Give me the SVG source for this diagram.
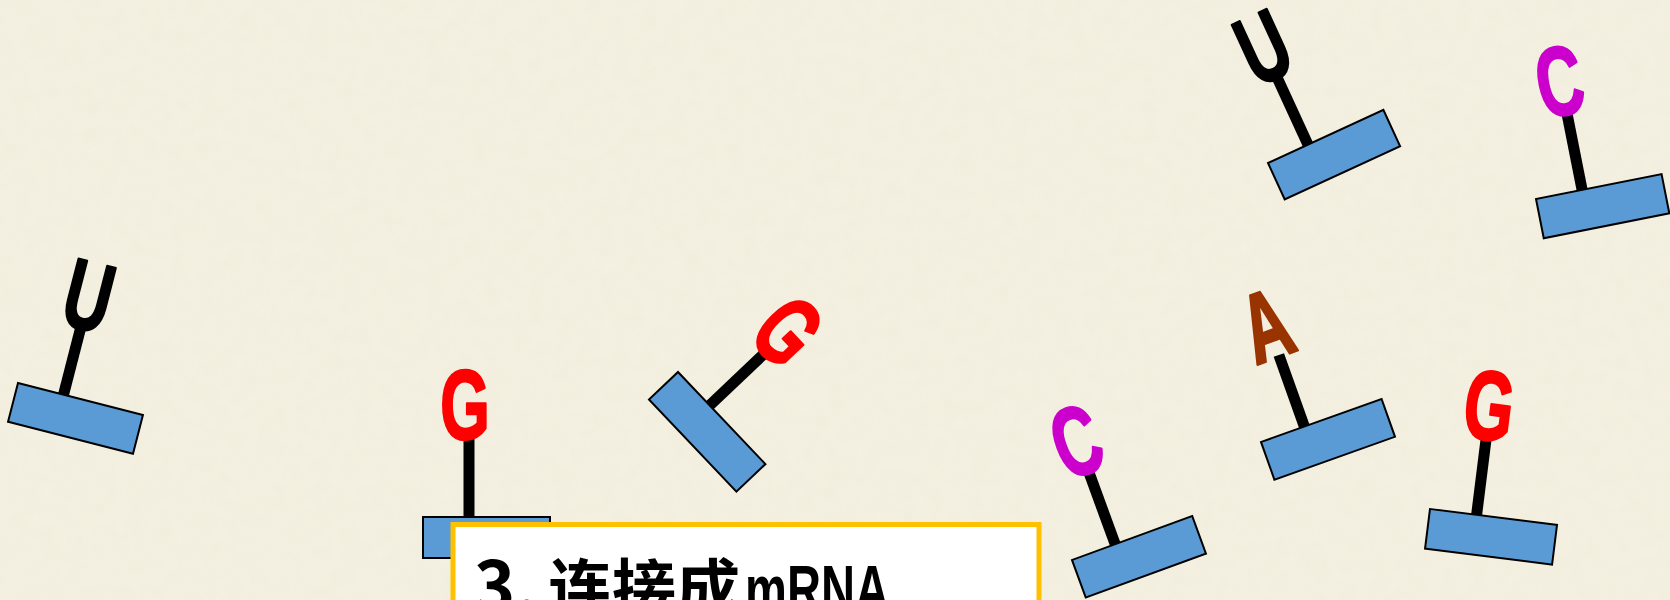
<svg xmlns="http://www.w3.org/2000/svg" width="1670" height="600" viewBox="0 0 1670 600">
  <style>
    .block { fill: #5B9BD5; stroke: #000; stroke-width: 2; }
    .stem { stroke: #000; stroke-width: 11; stroke-linecap: butt; }
    .base { font-family: "Liberation Sans", Arial, sans-serif; font-weight: bold; font-size: 98px; text-anchor: middle; stroke-width: 2.5; stroke-linejoin: round; }
    .g { fill: #FF0000; stroke: #FF0000; }
    .c { fill: #CC00CC; stroke: #CC00CC; }
    .a { fill: #993300; stroke: #993300; }
    .u { fill: #000000; stroke: #000000; }
    .title { font-family: "Noto Sans CJK SC", "Liberation Sans", sans-serif; font-weight: bold; font-size: 64px; fill: #000; }
  </style>
  <defs>
    <filter id="grain" x="0" y="0" width="100%" height="100%">
      <feTurbulence type="fractalNoise" baseFrequency="0.07" numOctaves="3" seed="7"/>
      <feColorMatrix type="matrix" values="0 0 0 0 0.80  0 0 0 0 0.76  0 0 0 0 0.62  0 0 0 0.5 0"/>
    </filter>
  </defs>

  <!-- paper background -->
  <rect width="1670" height="600" fill="#F5F1E2"/>
  <rect width="1670" height="600" filter="url(#grain)" opacity="0.45"/>

  <!-- nucleotide 1: U -->
  <g id="nt-u-left" transform="translate(18,383) rotate(14.4)">
    <line class="stem" x1="47" y1="2" x2="47" y2="-70"/>
    <rect class="block" x="0" y="0" width="129" height="40"/>
    <text class="base u" transform="translate(47,-68) scale(0.66,1)">U</text>
  </g>

  <!-- nucleotide 2: G -->
  <g id="nt-g-1" transform="translate(423,517)">
    <line class="stem" x1="46" y1="2" x2="46" y2="-80"/>
    <rect class="block" x="0" y="0" width="127" height="41"/>
    <text class="base g" transform="translate(42,-78) scale(0.65,1)">G</text>
  </g>

  <!-- nucleotide 3: G (tilted) -->
  <g id="nt-g-2" transform="translate(678,372) rotate(46.5)">
    <line class="stem" x1="46" y1="2" x2="46" y2="-76"/>
    <rect class="block" x="0" y="0" width="127" height="40"/>
    <text class="base g" transform="translate(46,-74) scale(0.65,1)">G</text>
  </g>

  <!-- nucleotide 4: C -->
  <g id="nt-c-1" transform="translate(1072,560) rotate(-20.1)">
    <line class="stem" x1="46" y1="2" x2="46" y2="-78"/>
    <rect class="block" x="0" y="0" width="128" height="40"/>
    <text class="base c" transform="translate(45,-76) scale(0.65,1)">C</text>
  </g>

  <!-- nucleotide 5: U (top) -->
  <g id="nt-u-top" transform="translate(1268,163) rotate(-24.7)">
    <line class="stem" x1="44" y1="2" x2="44" y2="-75"/>
    <rect class="block" x="0" y="0" width="127" height="40"/>
    <text class="base u" transform="translate(44,-73) scale(0.66,1)">U</text>
  </g>

  <!-- nucleotide 6: C (top right) -->
  <g id="nt-c-2" transform="translate(1536,199) rotate(-11.2)">
    <line class="stem" x1="47" y1="2" x2="47" y2="-79"/>
    <rect class="block" x="0" y="0" width="128" height="40"/>
    <text class="base c" transform="translate(46,-77) scale(0.65,1)">C</text>
  </g>

  <!-- nucleotide 7: A -->
  <g id="nt-a" transform="translate(1261,442) rotate(-19.6)">
    <line class="stem" x1="46" y1="2" x2="46" y2="-76"/>
    <rect class="block" x="0" y="0" width="128" height="40"/>
    <text class="base a" transform="translate(44,-74) scale(0.66,1)">A</text>
  </g>

  <!-- nucleotide 8: G (right) -->
  <g id="nt-g-3" transform="translate(1430,509) rotate(7.1)">
    <line class="stem" x1="47" y1="2" x2="47" y2="-78"/>
    <rect class="block" x="0" y="0" width="128" height="40"/>
    <text class="base g" transform="translate(46,-76) scale(0.65,1)">G</text>
  </g>

  <!-- caption box -->
  <g id="caption">
    <rect x="453" y="524.5" width="586" height="120" fill="#FFFFFF" stroke="#FFC000" stroke-width="5"/>
    <text class="title" y="612">
      <tspan x="474" font-size="70px">3.</tspan><tspan x="548">连接成</tspan><tspan x="745" font-family="Liberation Sans, sans-serif" font-size="66px" textLength="144" lengthAdjust="spacingAndGlyphs">mRNA</tspan>
    </text>
  </g>

  <!-- connectors: none drawn -->
  <g id="connectors"/>
</svg>
